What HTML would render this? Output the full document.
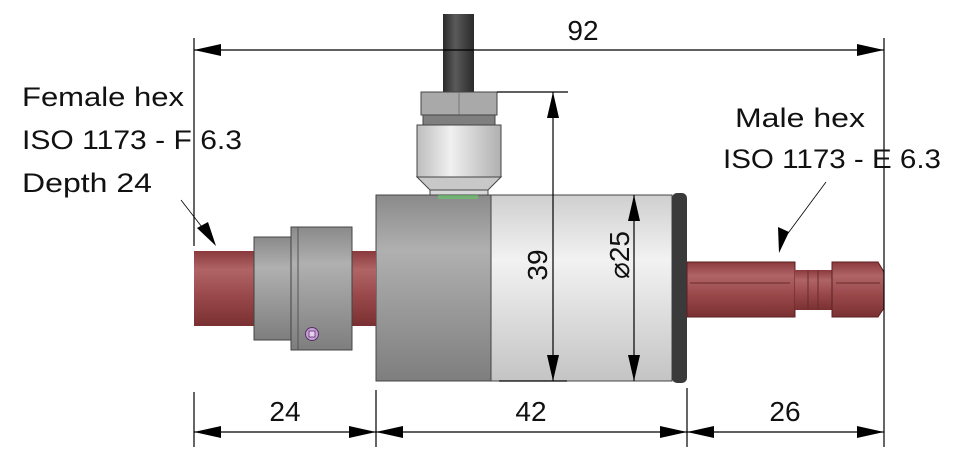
<!DOCTYPE html>
<html><head><meta charset="utf-8"><style>
html,body{margin:0;padding:0;background:#fff;}
svg{display:block;}
text{font-family:"Liberation Sans",sans-serif;fill:#111;}
</style></head><body>
<svg width="969" height="467" viewBox="0 0 969 467" xmlns="http://www.w3.org/2000/svg">
<defs>
<linearGradient id="red" x1="0" y1="0" x2="0" y2="1">
<stop offset="0" stop-color="#8a3a3c"/><stop offset="0.25" stop-color="#b06466"/><stop offset="0.6" stop-color="#99484a"/><stop offset="1" stop-color="#7a3032"/></linearGradient>
<linearGradient id="grey" x1="0" y1="0" x2="0" y2="1">
<stop offset="0" stop-color="#8a8a8a"/><stop offset="0.3" stop-color="#b0b0b0"/><stop offset="1" stop-color="#7e7e7e"/></linearGradient>
<linearGradient id="light" x1="0" y1="0" x2="0" y2="1">
<stop offset="0" stop-color="#cfcfcf"/><stop offset="0.35" stop-color="#f2f2f2"/><stop offset="1" stop-color="#c4c4c4"/></linearGradient>
<linearGradient id="sleeve" x1="0" y1="0" x2="1" y2="0">
<stop offset="0" stop-color="#bdbdbd"/><stop offset="0.4" stop-color="#f0f0f0"/><stop offset="1" stop-color="#b0b0b0"/></linearGradient>
<linearGradient id="cable" x1="0" y1="0" x2="1" y2="0">
<stop offset="0" stop-color="#2a2a2a"/><stop offset="0.4" stop-color="#5a5a5a"/><stop offset="1" stop-color="#2a2a2a"/></linearGradient>
</defs>

<rect x="443" y="14" width="31" height="78" fill="url(#cable)"/>
<rect x="421" y="92" width="76" height="23" fill="#a9a9a9" stroke="#444" stroke-width="1"/>
<line x1="459" y1="92" x2="459" y2="115" stroke="#777"/>
<rect x="423" y="115" width="72" height="10" fill="#7f7f7f" stroke="#444"/>
<rect x="417" y="125" width="84" height="52" fill="url(#sleeve)" stroke="#444"/>
<polygon points="417,177 501,177 488,190 430,190" fill="#c8c8c8" stroke="#444"/>
<rect x="430" y="190" width="58" height="7" fill="#d8d8d8" stroke="#444"/>

<rect x="376" y="195" width="115" height="186" fill="url(#grey)" stroke="#444"/>
<rect x="491" y="195" width="181" height="186" fill="url(#light)" stroke="#444"/>
<rect x="672" y="193" width="15" height="190" rx="5" fill="#3a3a3a"/>
<rect x="438" y="195" width="40" height="4" fill="#6c6" opacity="0.6"/>

<rect x="194" y="251" width="182" height="75" fill="url(#red)"/>
<rect x="254" y="237" width="37" height="103" fill="url(#grey)" stroke="#444"/>
<rect x="291" y="227" width="61" height="123" fill="url(#grey)" stroke="#444"/>
<line x1="298" y1="227" x2="298" y2="350" stroke="#555"/>
<circle cx="312" cy="334" r="6.5" fill="#c9a0d8" stroke="#553366"/>
<rect x="309" y="331" width="6" height="6" fill="#e6d0ef" stroke="#553366" stroke-width="0.8"/>

<rect x="687" y="262" width="108" height="55" fill="url(#red)" stroke="#5a2022"/>
<line x1="690" y1="283" x2="790" y2="283" stroke="#6a2a2c"/>
<rect x="795" y="270" width="37" height="40" fill="url(#red)"/>
<line x1="808" y1="270" x2="808" y2="310" stroke="#6a2a2c"/>
<line x1="818" y1="270" x2="818" y2="310" stroke="#6a2a2c"/>
<path d="M832,262 L878,262 L884,272 L884,308 L878,317 L832,317 Z" fill="url(#red)" stroke="#5a2022"/>
<line x1="836" y1="283" x2="880" y2="283" stroke="#6a2a2c"/>

<g stroke="#000" stroke-width="1.2" fill="none">
<line x1="194" y1="38" x2="194" y2="246"/>
<line x1="194" y1="392" x2="194" y2="447"/>
<line x1="884" y1="38" x2="884" y2="447"/>
<line x1="376" y1="390" x2="376" y2="447"/>
<line x1="687" y1="388" x2="687" y2="447"/>
<line x1="497" y1="92" x2="568" y2="92"/>
<line x1="499" y1="381" x2="567" y2="381"/>
<line x1="194" y1="50" x2="884" y2="50"/>
<line x1="194" y1="432" x2="884" y2="432"/>
<line x1="553" y1="92" x2="553" y2="381"/>
<line x1="634" y1="195" x2="634" y2="381"/>
<line x1="181" y1="200" x2="212" y2="240" stroke-width="0.8"/>
<line x1="826" y1="182" x2="783" y2="240" stroke-width="0.8"/>
</g>
<g fill="#000">
<polygon points="194,50 221,44 221,56"/>
<polygon points="884,50 857,44 857,56"/>
<polygon points="194,432 221,426 221,438"/>
<polygon points="376,432 349,426 349,438"/>
<polygon points="376,432 403,426 403,438"/>
<polygon points="687,432 660,426 660,438"/>
<polygon points="687,432 714,426 714,438"/>
<polygon points="884,432 857,426 857,438"/>
<polygon points="553,92 547,118 559,118"/>
<polygon points="553,381 547,355 559,355"/>
<polygon points="634,195 628,221 640,221"/>
<polygon points="634,381 628,355 640,355"/>
<polygon points="216,246 197,228 208,222"/>
<polygon points="779,253 778,227 789,232"/>
</g>

<text x="583" y="40" font-size="28" text-anchor="middle">92</text>
<text x="285" y="421" font-size="28" text-anchor="middle">24</text>
<text x="531" y="421" font-size="28" text-anchor="middle">42</text>
<text x="785" y="421" font-size="28" text-anchor="middle">26</text>
<text transform="translate(547,265) rotate(-90)" font-size="28" text-anchor="middle">39</text>
<text transform="translate(629,255) rotate(-90)" font-size="28" text-anchor="middle">⌀25</text>
<text x="22" y="106" font-size="27" textLength="162" lengthAdjust="spacingAndGlyphs">Female hex</text>
<text x="22" y="149" font-size="27" textLength="220" lengthAdjust="spacingAndGlyphs">ISO 1173 - F 6.3</text>
<text x="22" y="192" font-size="27" textLength="130" lengthAdjust="spacingAndGlyphs">Depth 24</text>
<text x="735" y="127" font-size="27" textLength="130" lengthAdjust="spacingAndGlyphs">Male hex</text>
<text x="723" y="168" font-size="27" textLength="218" lengthAdjust="spacingAndGlyphs">ISO 1173 - E 6.3</text>
</svg>
</body></html>
